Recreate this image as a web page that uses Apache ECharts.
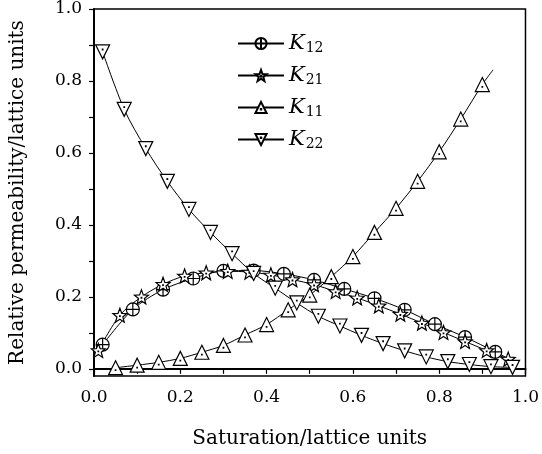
<!DOCTYPE html>
<html>
<head>
<meta charset="utf-8">
<script src="https://cdn.jsdelivr.net/npm/echarts@6/dist/echarts.min.js"></script>
<style>
html,body{margin:0;padding:0;background:#fff;}
#chartDiv{width:542px;height:454px;}
</style>
</head>
<body>
<div id="chartDiv"></div>
<script>
// saturation values (x) and relative permeabilities (y)
var k12X = [0.02,0.09,0.16,0.23,0.30,0.37,0.44,0.51,0.58,0.65,0.72,0.79,0.86,0.93,0.98];
var k12Y = [0.067,0.165,0.220,0.251,0.272,0.273,0.264,0.247,0.222,0.196,0.164,0.124,0.088,0.047,0.016];

var k21X = [0.01,0.06,0.11,0.16,0.21,0.26,0.31,0.36,0.41,0.46,0.51,0.56,0.61,0.66,0.71,0.76,0.81,0.86,0.91,0.96];
var k21Y = [0.051,0.149,0.200,0.235,0.258,0.267,0.271,0.269,0.261,0.248,0.234,0.215,0.197,0.175,0.152,0.127,0.101,0.076,0.051,0.027];

var k11X = [0.05,0.10,0.15,0.20,0.25,0.30,0.35,0.40,0.45,0.50,0.55,0.60,0.65,0.70,0.75,0.80,0.85,0.90,0.925];
var k11Y = [0.003,0.010,0.018,0.029,0.046,0.065,0.094,0.123,0.164,0.205,0.256,0.312,0.379,0.446,0.521,0.603,0.694,0.790,0.831];

var k22X = [0.02,0.07,0.12,0.17,0.22,0.27,0.32,0.37,0.42,0.47,0.52,0.57,0.62,0.67,0.72,0.77,0.82,0.87,0.92,0.97];
var k22Y = [0.881,0.721,0.612,0.521,0.443,0.379,0.320,0.265,0.224,0.183,0.146,0.119,0.093,0.070,0.050,0.033,0.020,0.012,0.006,0.004];

// the K12 and K11 curves run on past their last marker
var k12LastNoMark = true;
var k11LastNoMark = true;

var seriesNames = ['K12','K21','K11','K22'];
var xTicks = [0,0.1,0.2,0.3,0.4,0.5,0.6,0.7,0.8,0.9,1.0];
var xLabels = [0,0.2,0.4,0.6,0.8,1.0];
var yTicks = [0,0.1,0.2,0.3,0.4,0.5,0.6,0.7,0.8,0.9,1.0];
var yLabels = [0,0.2,0.4,0.6,0.8,1.0];

var symCirclePlus = 'path://M0,10 A10,10 0 1 1 20,10 A10,10 0 1 1 0,10 Z M10,0 L10,20 M0,10 L20,10';
var symStar = 'path://M10,0 L12.5,6.6 L19.51,6.91 L14,11.3 L15.88,18.09 L10,14.3 L4.12,18.09 L6,11.3 L0.49,6.91 L7.5,6.6 Z M9.6,9.8 L10.4,9.8 L10.4,10.6 L9.6,10.6 Z';
var symTriUp = 'path://M10,0 L20,18 L0,18 Z M9.6,11.6 L10.4,11.6 L10.4,12.4 L9.6,12.4 Z';
var symTriDown = 'path://M0,0 L20,0 L10,18 Z M9.6,5.6 L10.4,5.6 L10.4,6.4 L9.6,6.4 Z';

function pairs(xs, ys, lastNoMark){
	var out = [];
	for (var i = 0; i < xs.length; i++) {
		if (lastNoMark && i == xs.length - 1) {
			out.push({value:[xs[i], ys[i]], symbol:'none'});
		} else {
			out.push([xs[i], ys[i]]);
		}
	}
	return out;
}

function mkSeries(name, data, symbol, size){
	return {
		name: name,
		type: 'line',
		smooth: 0.3,
		data: data,
		symbol: symbol,
		symbolSize: size,
		showAllSymbol: true,
		lineStyle: {color:'#000', width:1},
		itemStyle: {color:'#fff', borderColor:'#000', borderWidth:1.2},
		emphasis: {disabled:true},
		z: 3
	};
}

var serif = 'DejaVu Serif';

var chartOption = {
	animation: false,
	backgroundColor: '#fff',
	grid: {
		left: 92, right: 13, top: 9, bottom: 73,
		show: true, borderColor: '#000', borderWidth: 1.5
	},
	legend: {
		orient: 'vertical',
		left: 232,
		top: 28,
		itemWidth: 46,
		itemHeight: 14,
		itemGap: 10,
		data: seriesNames,
		formatter: function(n){ return '{k|K}{s|' + n.slice(1) + '}'; },
		textStyle: {
			rich: {
				k: {fontFamily: serif, fontStyle:'italic', fontSize:21, color:'#000'},
				s: {fontFamily: serif, fontSize:14, color:'#000', padding:[9,0,0,1]}
			}
		}
	},
	xAxis: {
		type: 'value',
		min: 0, max: 1,
		name: 'Saturation/lattice units',
		nameLocation: 'middle',
		nameGap: 53,
		nameTextStyle: {fontFamily: serif, fontSize:20, color:'#000'},
		axisLine: {lineStyle:{color:'#000', width:2}},
		axisTick: {show:true, length:5, inside:false, lineStyle:{color:'#000', width:1.2}, customValues: xTicks},
		axisLabel: {fontFamily: serif, fontSize:17, color:'#000', margin:13, customValues: xLabels,
			formatter: function(v){ return v.toFixed(1); }},
		splitLine: {show:false}
	},
	yAxis: {
		type: 'value',
		min: -0.02, max: 1,
		name: 'Relative permeability/lattice units',
		nameLocation: 'middle',
		nameGap: 66,
		nameTextStyle: {fontFamily: serif, fontSize:20, color:'#000'},
		axisLine: {onZero:false, lineStyle:{color:'#000', width:2}},
		axisTick: {show:true, length:5, inside:false, lineStyle:{color:'#000', width:1.2}, customValues: yTicks},
		axisLabel: {fontFamily: serif, fontSize:17, color:'#000', margin:12, customValues: yLabels,
			formatter: function(v){ return v.toFixed(1); }},
		splitLine: {show:false}
	},
	series: [
		mkSeries('K12', pairs(k12X, k12Y, k12LastNoMark), symCirclePlus, 13),
		mkSeries('K21', pairs(k21X, k21Y, false), symStar, 14),
		mkSeries('K11', pairs(k11X, k11Y, k11LastNoMark), symTriUp, 14),
		mkSeries('K22', pairs(k22X, k22Y, false), symTriDown, 14)
	]
};

var countChart = echarts.init(document.getElementById('chartDiv'));
countChart.setOption(chartOption);
</script>
</body>
</html>
